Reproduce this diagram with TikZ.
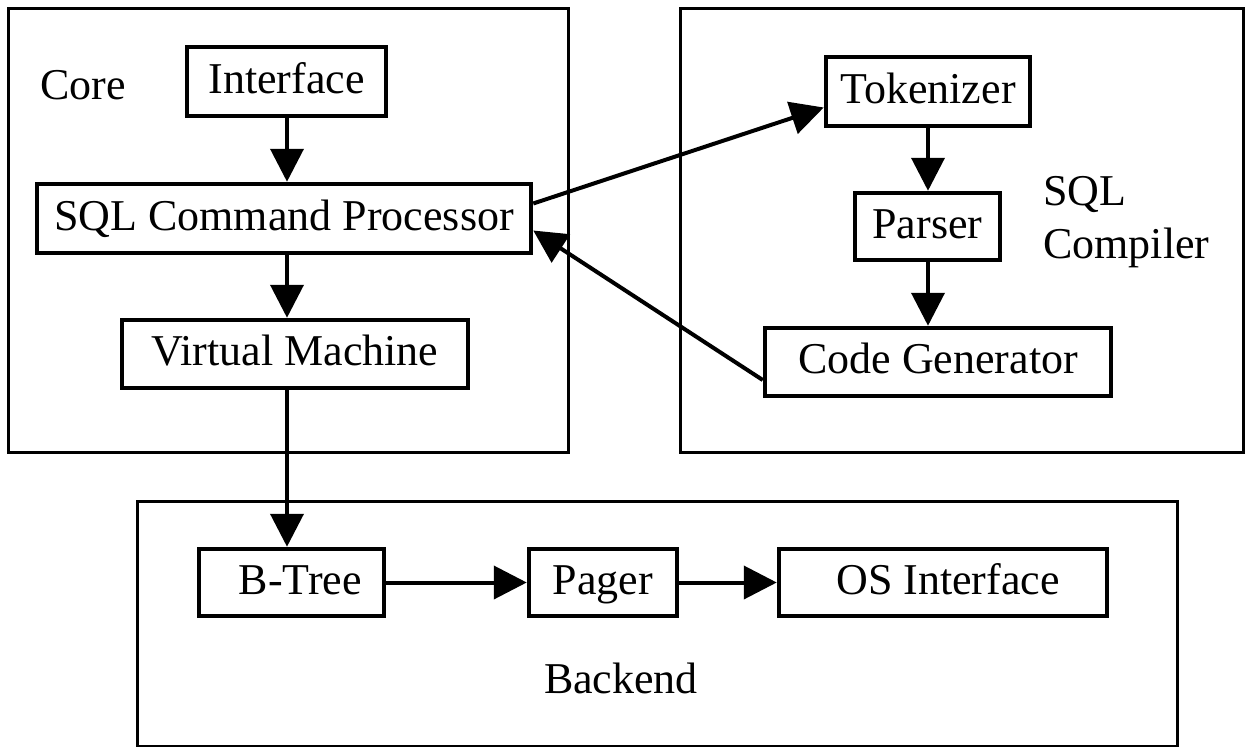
\documentclass[tikz,border=0pt]{standalone}
\usepackage{fontspec}
\setmainfont{Liberation Serif}
\usetikzlibrary{arrows.meta}
\tikzset{
  group/.style={draw, line width=3pt, inner sep=0pt},
  block/.style={draw, line width=4.5pt, inner sep=0pt, text height=33pt, text depth=10pt,
    font=\fontsize{44}{53}\selectfont},
  label/.style={inner sep=0pt, font=\fontsize{44}{53}\selectfont},
  flow/.style={line width=4pt, -{Triangle[length=33pt,width=33pt]}}
}
\begin{document}
\begin{tikzpicture}[x=1pt,y=-1pt]
\useasboundingbox (0,0) rectangle (1251,747);

% subsystem frames
\node[group, minimum width=560pt, minimum height=444pt] (core) at (288,230) {};
\node[group, minimum width=563pt, minimum height=444pt] (compiler) at (961.5,230) {};
\node[group, minimum width=1040pt, minimum height=245pt] (backend) at (657,623.5) {};

% frame captions
\node[label, anchor=base west] (corelbl) at (40,99) {Core};
\node[label, anchor=base west, align=left] (complbl) at (1043,258) {SQL\\Compiler};
\node[label, anchor=base] (backlbl) at (621,693) {Backend};

% core blocks
\node[block, minimum width=199pt, minimum height=69pt] (iface) at (286.5,81.5) {Interface};
\node[block, minimum width=494pt, minimum height=69pt] (sqlcp) at (284,218.5) {SQL Command Processor};
\node[block, minimum width=346pt, minimum height=68pt] (vm) at (295,354) {Virtual Machine};

% compiler blocks
\node[block, minimum width=204pt, minimum height=69pt] (tok) at (928,91.5) {Tokenizer};
\node[block, minimum width=145pt, minimum height=67pt] (parser) at (927.5,226.5) {Parser};
\node[block, minimum width=346pt, minimum height=68pt] (cg) at (938,362) {Code Generator};

% backend blocks
\node[block, minimum width=185pt, minimum height=67pt] (btree) at (291.5,582.5) {\hspace*{18pt}B-Tree};
\node[block, minimum width=148pt, minimum height=67pt] (pager) at (603,582.5) {Pager};
\node[block, minimum width=328pt, minimum height=67pt] (os) at (943,582.5) {\hspace*{10pt}OS Interface};

% control flow
\draw[flow] (iface.south -| 287,0) -- (sqlcp.north -| 287,0);
\draw[flow] (sqlcp.south -| 287,0) -- (vm.north -| 287,0);
\draw[flow] (vm.south -| 287,0) -- (btree.north -| 287,0);
\draw[flow] ([yshift=15pt]sqlcp.east) -- ([yshift=-16pt]tok.west);
\draw[flow] ([yshift=-18pt]cg.west) -- ([yshift=-12pt]sqlcp.east);
\draw[flow] (tok.south -| 928,0) -- (parser.north -| 928,0);
\draw[flow] (parser.south -| 928,0) -- (cg.north -| 928,0);
\draw[flow] (btree.east) -- (pager.west);
\draw[flow] (pager.east) -- (os.west);
\end{tikzpicture}
\end{document}
